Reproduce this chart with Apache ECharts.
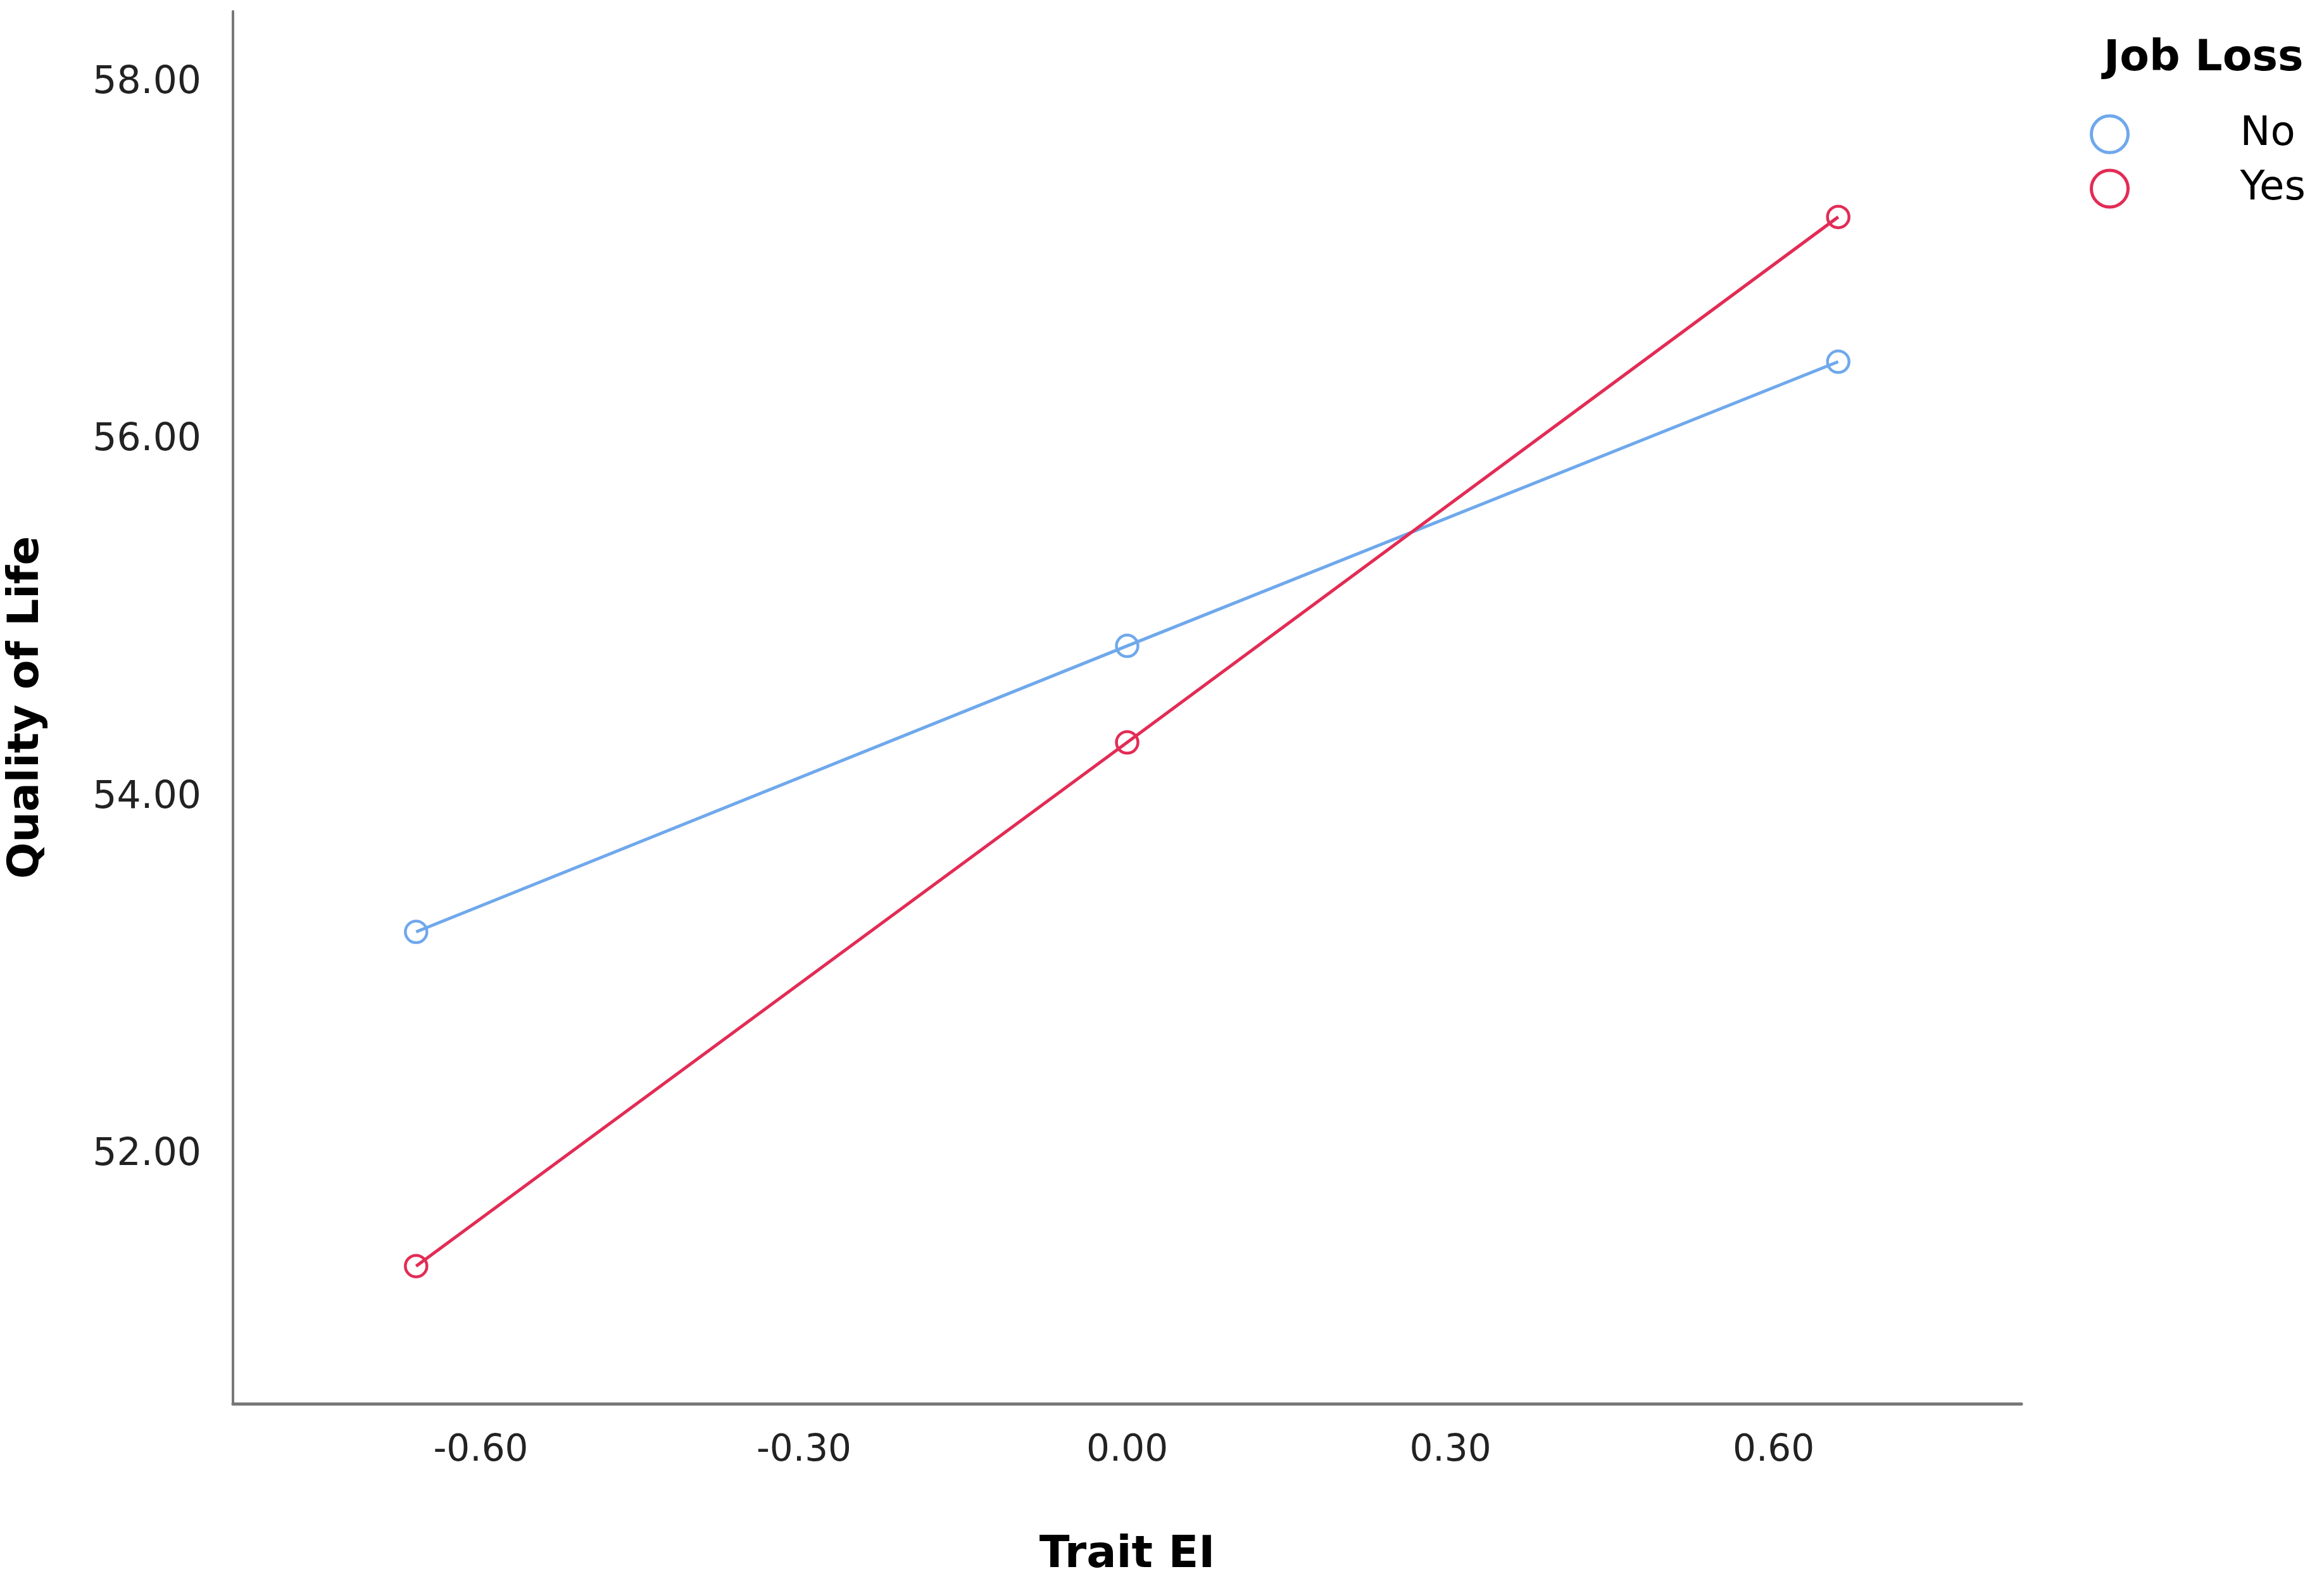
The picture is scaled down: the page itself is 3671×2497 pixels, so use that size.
<!DOCTYPE html>
<html>
<head>
<meta charset="utf-8">
<title>Quality of Life by Trait EI</title>
<script src="https://cdn.jsdelivr.net/npm/echarts@6/dist/echarts.min.js"></script>
<style>
  html, body { margin: 0; padding: 0; background: #fff; }
  #main { width: 3671px; height: 2497px; }
</style>
</head>
<body>
<div id="main"></div>
<script>
// data
var traitEI = [-0.66, 0.0, 0.66];
var qolNo = [53.25, 54.85, 56.44];
var qolYes = [51.38, 54.31, 57.25];
var xTicks = [-0.6, -0.3, 0, 0.3, 0.6];
var yTicks = [52, 54, 56, 58];
var groups = ['No', 'Yes'];

var colors = ['#6fa8ec', '#e22c55'];

function pairs(xs, ys) {
	return xs.map(function(x, i) { return [x, ys[i]]; });
}

var chart = echarts.init(document.getElementById('main'));

var lineSeries = function(name, values, color) {
	return {
		name: name,
		type: 'line',
		data: pairs(traitEI, values),
		symbol: 'circle',
		symbolSize: 34,
		lineStyle: { color: color, width: 5 },
		itemStyle: { color: 'transparent', borderColor: color, borderWidth: 4.5 },
		emphasis: { disabled: true },
		z: 3
	};
};

var option = {
	backgroundColor: '#fff',
	animation: false,
	color: colors,
	title: {
		text: 'Job Loss',
		left: 3318,
		top: 54,
		textStyle: { fontFamily: 'DejaVu Sans', fontWeight: 'bold', fontSize: 68, color: '#000' }
	},
	legend: {
		data: groups,
		orient: 'vertical',
		left: 3296,
		top: 175,
		icon: 'circle',
		itemWidth: 58,
		itemHeight: 58,
		itemGap: 22,
		itemStyle: { color: 'transparent', borderColor: 'inherit', borderWidth: 5 },
		textStyle: { fontFamily: 'DejaVu Sans', fontSize: 64, color: '#000', padding: [0, 0, 0, 172] }
	},
	grid: {
		left: 358,
		top: 18,
		right: 478,
		bottom: 262,
		containLabel: false
	},
	xAxis: {
		type: 'value',
		min: -0.83,
		max: 0.83,
		name: 'Trait EI',
		nameLocation: 'middle',
		nameGap: 205,
		nameTextStyle: { fontFamily: 'DejaVu Sans', fontWeight: 'bold', fontSize: 70, color: '#000' },
		axisLine: { show: true, onZero: false, lineStyle: { color: '#777', width: 5 } },
		axisTick: { show: false },
		splitLine: { show: false },
		axisLabel: {
			customValues: xTicks,
			margin: 46,
			fontFamily: 'DejaVu Sans',
			fontSize: 58,
			color: '#222',
			formatter: function(v) { return v.toFixed(2); }
		}
	},
	yAxis: {
		type: 'value',
		min: 50.61,
		max: 58.4,
		name: 'Quality of Life',
		nameLocation: 'middle',
		nameGap: 292,
		nameRotate: 90,
		nameTextStyle: { fontFamily: 'DejaVu Sans', fontWeight: 'bold', fontSize: 68, color: '#000' },
		axisLine: { show: true, onZero: false, lineStyle: { color: '#777', width: 4 } },
		axisTick: { show: false },
		splitLine: { show: false },
		axisLabel: {
			customValues: yTicks,
			margin: 50,
			fontFamily: 'DejaVu Sans',
			fontSize: 60,
			color: '#222',
			formatter: function(v) { return v.toFixed(2); }
		}
	},
	series: [
		lineSeries('No', qolNo, colors[0]),
		lineSeries('Yes', qolYes, colors[1])
	]
};

chart.setOption(option);
</script>
</body>
</html>
